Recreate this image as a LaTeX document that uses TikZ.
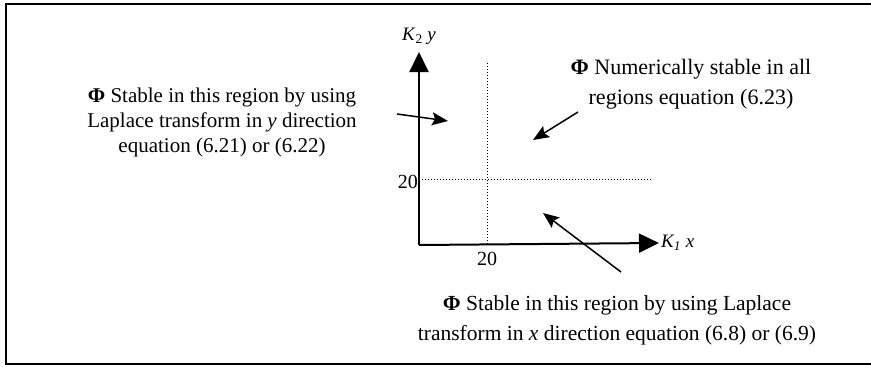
\documentclass[tikz,border=0pt]{standalone}
\usepackage{fontspec}
\setmainfont{Liberation Serif}
\usepackage{tikz}
\usetikzlibrary{arrows.meta,positioning}

\begin{document}
\begin{tikzpicture}[x=1pt,y=-1pt,
    axis/.style={line width=2pt,-{Triangle[length=20pt,width=19pt]}},
    pointer/.style={line width=1.5pt,-{Stealth[length=16pt,width=13pt,inset=3pt]}},
    grid/.style={dotted,line width=1pt},
    note/.style={align=center,font=\fontsize{19}{26}\selectfont,inner sep=0pt}]
    \useasboundingbox (0,0) rectangle (871,367);
    \draw[line width=2pt] (6,4) rectangle (880,364);
    % axes
    \coordinate (o) at (419,245);
    \coordinate (ytip) at (419,52);
    \coordinate (xtip) at (659,243);
    \draw[axis] (o) -- (ytip);
    \draw[axis] (o) -- (xtip);
    \node[note,above=7pt of ytip] (ylab) {\textit{K}\textsubscript{2} \textit{y}};
    \node[note,right=2pt of xtip] (xlab) {\textit{K\textsubscript{1} x}};
    % dotted limits at 20
    \coordinate (vtop) at (487,61);
    \coordinate (vbot) at (487,244);
    \coordinate (hleft) at (419,179);
    \coordinate (hright) at (653,179);
    \draw[grid] (vbot) -- (vtop);
    \draw[grid] (hleft) -- (hright);
    \node[note,font=\fontsize{20}{24}\selectfont,left=1pt of hleft,yshift=-3pt] (ytick) {20};
    \node[note,font=\fontsize{20}{24}\selectfont,below=8pt of vbot] (xtick) {20};
    % regions
    \node[note,font=\fontsize{21}{25}\selectfont] (ystable) at (222,122)
      {\textbf{Φ} Stable in this region by using\\Laplace transform in \textit{y} direction\\equation (6.21) or (6.22)};
    \node[note,font=\fontsize{22}{30}\selectfont] (allstable) at (691,84)
      {\textbf{Φ} Numerically stable in all\\regions equation (6.23)};
    \node[note,font=\fontsize{21.5}{30}\selectfont] (xstable) at (617,320)
      {\textbf{Φ} Stable in this region by using Laplace\\transform in \textit{x} direction equation (6.8) or (6.9)};
    % pointers into the regions
    \coordinate (ya) at (397,114);
    \coordinate (yb) at (448,121);
    \coordinate (aa) at (578,112);
    \coordinate (ab) at (533,140);
    \coordinate (xa) at (621,272);
    \coordinate (xb) at (543,213);
    \foreach \a/\b in {ya/yb,aa/ab,xa/xb}
      \draw[pointer] (\a) -- (\b);
  \end{tikzpicture}
\end{document}
